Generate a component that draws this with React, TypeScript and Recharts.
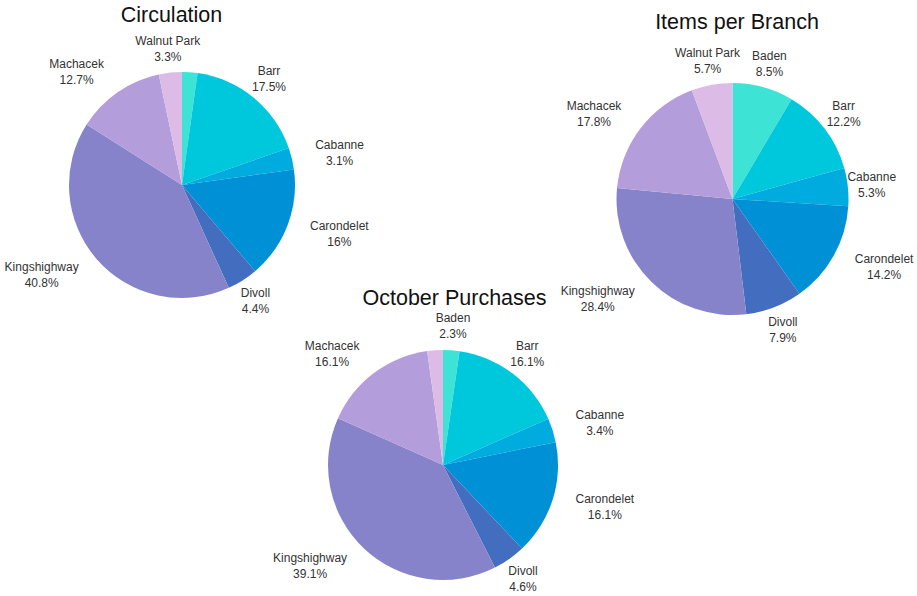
import { PieChart, Pie, Cell } from "recharts";

const branches = [
  "Baden",
  "Barr",
  "Cabanne",
  "Carondelet",
  "Divoll",
  "Kingshighway",
  "Machacek",
  "Walnut Park",
];
const branchColors = [
  "#3de3d5",
  "#00c8dc",
  "#00acdf",
  "#0090d6",
  "#436ebf",
  "#8783cb",
  "#b39ddb",
  "#dcbbe6",
];
const circulation = [2.2, 17.5, 3.1, 16, 4.4, 40.8, 12.7, 3.3];
const itemsPerBranch = [8.5, 12.2, 5.3, 14.2, 7.9, 28.4, 17.8, 5.7];
const octoberPurchases = [2.3, 16.1, 3.4, 16.1, 4.6, 39.1, 16.1, 2.2];

const WIDTH = 917;
const HEIGHT = 596;
const LABEL_GAP = 24;
const LINE = 16;
const FONT_FAMILY = '"Liberation Sans", Arial, sans-serif';

let ctx: CanvasRenderingContext2D | null = null;
function textWidth(s: string) {
  if (!ctx) ctx = document.createElement("canvas").getContext("2d");
  if (!ctx) return s.length * 6.5;
  ctx.font = `12px ${FONT_FAMILY}`;
  return ctx.measureText(s).width;
}

const fmt = (p: number) => `${Number((p * 100).toFixed(1))}%`;

// theta: degrees clockwise from 12 o'clock
function labelBox(cx: number, cy: number, r: number, theta: number, name: string, pct: string) {
  const rad = (theta * Math.PI) / 180;
  const s = Math.sin(rad);
  const c = -Math.cos(rad);
  const px = cx + (r + LABEL_GAP) * s;
  const py = cy + (r + LABEL_GAP) * c;
  const w = Math.max(textWidth(name), textWidth(pct));
  const t = ((theta % 360) + 360) % 360;
  const nearVertical = t < 60 || t > 340 || (t > 135 && t < 200);
  let x = px;
  if (!nearVertical) {
    const shifted = px + (s > 0 ? w / 2 : -w / 2);
    if (shifted - w / 2 >= 0 && shifted + w / 2 <= WIDTH) x = shifted;
  }
  return { x, y: py, w, h: 2 * LINE };
}

// smaller slices lose their label when it would collide with a bigger one
function hiddenLabels(values: number[], cx: number, cy: number, r: number) {
  const total = values.reduce((a, b) => a + b, 0);
  let acc = 0;
  const boxes = values.map((v, i) => {
    const theta = ((acc + v / 2) / total) * 360;
    acc += v;
    return labelBox(cx, cy, r, theta, branches[i], fmt(v / total));
  });
  const order = values.map((_, i) => i).sort((a, b) => values[b] - values[a]);
  const placed: number[] = [];
  const hidden = new Set<number>();
  order.forEach((i) => {
    const b = boxes[i];
    const hit = placed.some((j) => {
      const o = boxes[j];
      return Math.abs(o.x - b.x) < (o.w + b.w) / 2 && Math.abs(o.y - b.y) < (o.h + b.h) / 2;
    });
    if (hit) hidden.add(i);
    else placed.push(i);
  });
  return hidden;
}

function makeLabel(hidden: Set<number>) {
  return (props: any) => {
    const { cx, cy, midAngle, outerRadius, percent, index, name } = props;
    if (hidden.has(index)) return null;
    const pct = fmt(percent);
    const b = labelBox(cx, cy, outerRadius, 90 - midAngle, name, pct);
    return (
      <g key={`lbl-${index}`}>
        <text x={b.x} y={b.y - LINE / 2} textAnchor="middle" dominantBaseline="central" fill="#333" fontSize={12} fontFamily={FONT_FAMILY}>
          {name}
        </text>
        <text x={b.x} y={b.y + LINE / 2} textAnchor="middle" dominantBaseline="central" fill="#333" fontSize={12} fontFamily={FONT_FAMILY}>
          {pct}
        </text>
      </g>
    );
  };
}

const pies = [
  { title: "Circulation", values: circulation, cx: 182, cy: 185, r: 113, tx: 171.5, ty: 22 },
  { title: "Items per Branch", values: itemsPerBranch, cx: 732.5, cy: 199, r: 116, tx: 737, ty: 28.5 },
  { title: "October Purchases", values: octoberPurchases, cx: 443, cy: 465, r: 115, tx: 454.5, ty: 305 },
];

export default function App() {
  return (
    <div style={{ position: "absolute", left: 0, top: 0, width: WIDTH, height: HEIGHT, background: "#fff" }}>
      <PieChart width={WIDTH} height={HEIGHT} margin={{ top: 0, right: 0, bottom: 0, left: 0 }}>
        {pies.map((p) => {
          const data = branches.map((name, i) => ({ name, value: p.values[i] }));
          const hidden = hiddenLabels(p.values, p.cx, p.cy, p.r);
          return (
            <Pie
              key={p.title}
              data={data}
              dataKey="value"
              nameKey="name"
              cx={p.cx}
              cy={p.cy}
              outerRadius={p.r}
              startAngle={90}
              endAngle={-270}
              stroke="none"
              labelLine={false}
              label={makeLabel(hidden)}
              isAnimationActive={false}
            >
              {data.map((d, i) => (
                <Cell key={d.name} fill={branchColors[i]} />
              ))}
            </Pie>
          );
        })}
        {pies.map((p) => (
          <text key={`t-${p.title}`} x={p.tx} y={p.ty} textAnchor="middle" fontSize={21.5} fontFamily={FONT_FAMILY} fill="#111">
            {p.title}
          </text>
        ))}
      </PieChart>
    </div>
  );
}
